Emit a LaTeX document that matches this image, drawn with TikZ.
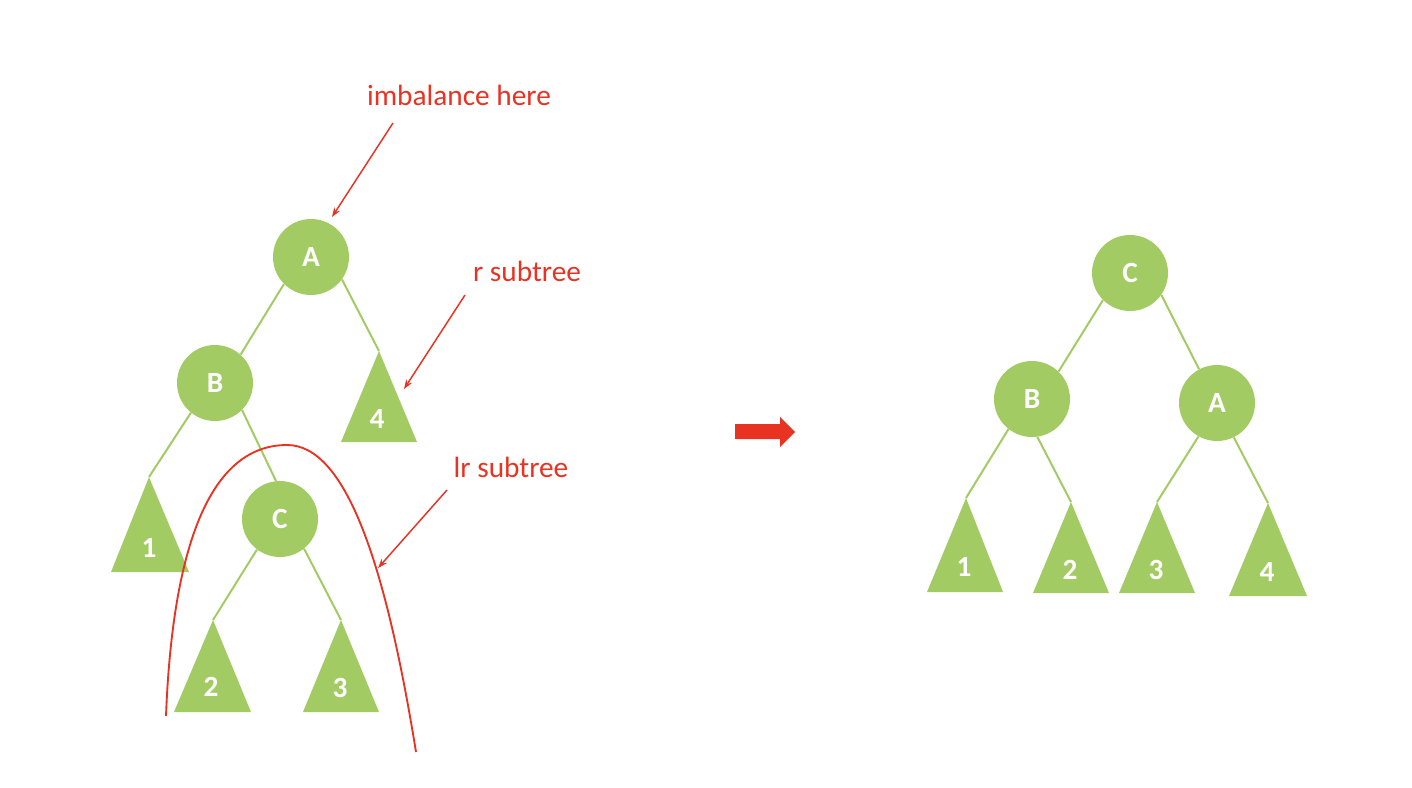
\documentclass[tikz,border=0pt]{standalone}
\usepackage{fontspec}
\setmainfont{Carlito}
\usetikzlibrary{arrows.meta}
\definecolor{lgreen}{RGB}{162,204,99}
\definecolor{ared}{RGB}{232,51,35}
\begin{document}
\begin{tikzpicture}[x=0.75pt,y=-0.75pt,
  circ/.style={circle,fill=lgreen,minimum size=57pt,inner sep=0pt,text=white,font=\fontsize{22}{26}\selectfont\bfseries},
  edge/.style={draw=lgreen,line width=1.5pt},
  tri/.style={fill=lgreen},
  num/.style={text=white,inner sep=0pt,font=\fontsize{22}{26}\selectfont\bfseries},
  lbl/.style={text=ared,inner sep=0pt,font=\fontsize{22}{26}\selectfont},
  ann/.style={draw=ared,line width=1.1pt,-{Stealth[length=7pt,width=5pt]}},
  arch/.style={draw=ared,line width=1.4pt}
]
\useasboundingbox (0,0) rectangle (1412,788);

% ---------- left tree ----------
\node[circ] (A) at (311,257) {A};
\node[circ] (B) at (215,383) {B};
\node[circ] (C) at (280,519) {C};

\coordinate (t1) at (149,477);
\coordinate (t4) at (379,351);
\coordinate (t2) at (213,620);
\coordinate (t3) at (341,620);
\fill[tri] (t1) -- (189,572) -- (111,572) -- cycle;
\fill[tri] (t4) -- (417,442) -- (341,442) -- cycle;
\fill[tri] (t2) -- (251,712) -- (174,712) -- cycle;
\fill[tri] (t3) -- (379,712) -- (303,712) -- cycle;
\node[num] (n1) at (149,548) {1};
\node[num] (n4) at (377,419) {4};
\node[num] (n2) at (211,687) {2};
\node[num] (n3) at (340,688) {3};

\draw[edge] (A.225) -- (B.48);
\draw[edge] (A.-36) -- (t4);
\draw[edge] (B.231) -- (t1);
\draw[edge] (B.-45) -- (C.96);
\draw[edge] (C.233) -- (t2);
\draw[edge] (C.-51) -- (t3);

% annotations
\node[lbl] (imb) at (459,95) {imbalance here};
\node[lbl] (rs) at (527,271) {r subtree};
\node[lbl] (lrs) at (511,467) {lr subtree};
\coordinate (a1s) at (393,123);
\coordinate (a1e) at (332,217);
\coordinate (a2s) at (465,295);
\coordinate (a2e) at (404,389);
\coordinate (a3s) at (447,490);
\coordinate (a3e) at (378,568);
\draw[ann] (a1s) -- (a1e);
\draw[ann] (a2s) -- (a2e);
\draw[ann] (a3s) -- (a3e);

\draw[arch] (166,716) .. controls (172,560) and (205,445) .. (287,445)
            .. controls (345,445) and (385,560) .. (416,752);

% big arrow
\fill[ared] (735,424) -- (780,424) -- (780,417) -- (795,432) -- (780,447) -- (780,439) -- (735,439) -- cycle;

% ---------- right tree ----------
\node[circ] (rC) at (1130,273) {C};
\node[circ] (rB) at (1032,399) {B};
\node[circ] (rA) at (1217,403) {A};

\coordinate (r1) at (966,498);
\coordinate (r2) at (1071,502);
\coordinate (r3) at (1157,502);
\coordinate (r4) at (1268,503);
\fill[tri] (r1) -- (1003,592) -- (927,592) -- cycle;
\fill[tri] (r2) -- (1109,593) -- (1033,593) -- cycle;
\fill[tri] (r3) -- (1195,593) -- (1119,593) -- cycle;
\fill[tri] (r4) -- (1307,596) -- (1229,596) -- cycle;
\node[num] (m1) at (964,567) {1};
\node[num] (m2) at (1070,570) {2};
\node[num] (m3) at (1156,570) {3};
\node[num] (m4) at (1267,572) {4};

\draw[edge] (rC.225) -- (rB.46);
\draw[edge] (rC.-35) -- (rA.118);
\draw[edge] (rB.232) -- (r1);
\draw[edge] (rB.-82) -- (r2);
\draw[edge] (rA.241) -- (r3);
\draw[edge] (rA.-64) -- (r4);
\end{tikzpicture}
\end{document}
